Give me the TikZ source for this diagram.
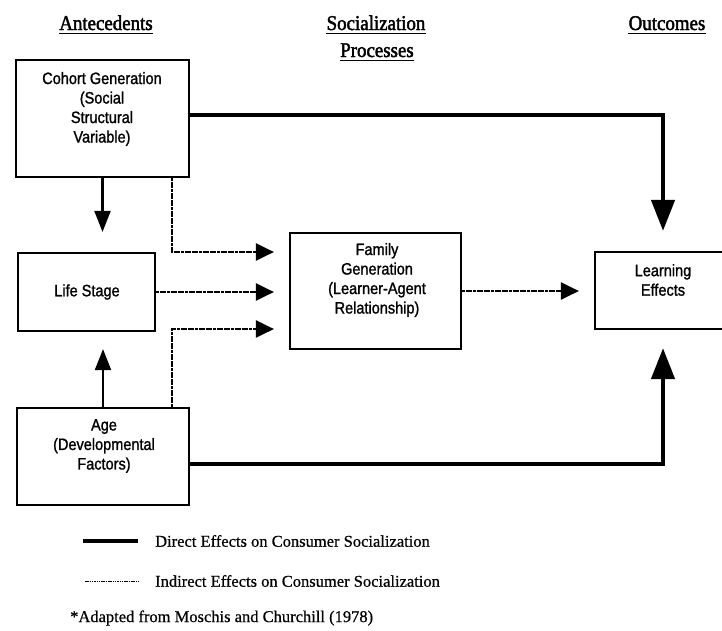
\documentclass[tikz,border=0pt]{standalone}
\usepackage{fontspec}
\setmainfont{Liberation Serif}
\newfontfamily\boxfont[FakeStretch=0.88,FakeBold=1.2]{Liberation Sans}
\newfontfamily\hdrfont[FakeStretch=0.9,FakeBold=2]{Liberation Serif}
\newfontfamily\legfont[FakeBold=0.6]{Liberation Serif}
\usetikzlibrary{arrows.meta}
\begin{document}
\begin{tikzpicture}[x=1pt,y=-1pt,
  box/.style={draw,line width=2.2pt,inner sep=0pt},
  btext/.style={font=\boxfont\fontsize{16.5}{19.5}\selectfont,align=center,inner sep=0pt},
  hdr/.style={font=\hdrfont\fontsize{21}{26}\selectfont,inner sep=0pt,anchor=base,text depth=0pt},
  legend/.style={font=\legfont\fontsize{16.5}{20}\selectfont,inner sep=0pt,anchor=west},
  uline/.style={line width=1.4pt},
  direct/.style={line width=4.5pt},
  medium/.style={line width=2.2pt},
  indirect/.style={line width=2.4pt,dash pattern=on 3pt off 0.6pt},
  bigtip/.style={-{Triangle[length=31pt,width=23pt]}},
  midtip/.style={-{Triangle[length=21pt,width=16pt]}},
  smalltip/.style={-{Triangle[length=18pt,width=17pt]}}
]
\useasboundingbox (0,0) rectangle (722,630);
\fill[white] (0,0) rectangle (722,630);

% headers
\node[hdr] (h1) at (106,30) {Antecedents};
\node[hdr] (h2) at (376,30) {Socialization};
\node[hdr] (h3) at (377,57) {Processes};
\node[hdr] (h4) at (667,30) {Outcomes};
\foreach \h in {h1,h2,h3,h4}
  \draw[uline] ([yshift=-3pt]\h.south west) -- ([yshift=-3pt]\h.south east);

% boxes
\node[box,minimum width=173pt,minimum height=117pt] (cohort) at (102.5,118.5) {};
\node[box,minimum width=137pt,minimum height=78pt] (life) at (86.5,292) {};
\node[box,minimum width=172pt,minimum height=97pt] (age) at (103,456.5) {};
\node[box,minimum width=171pt,minimum height=116pt] (family) at (375.5,291) {};
\node[box,minimum width=136pt,minimum height=77pt] (learn) at (663,290.5) {};

% box texts
\node[btext] (cohortT) at (102,109) {Cohort Generation\\(Social\\Structural\\Variable)};
\node[btext] (lifeT) at (87,292) {Life Stage};
\node[btext] (ageT) at (104,446) {Age\\(Developmental\\Factors)};
\node[btext] (familyT) at (377,280) {Family\\Generation\\(Learner-Agent\\Relationship)};
\node[btext] (learnT) at (663,280) {Learning\\Effects};

% helper coordinates
\coordinate (lsTopTip) at ([yshift=20pt]life.north);
\coordinate (lsBotTip) at ([yshift=-17pt]life.south);
\coordinate (famTip) at ([xshift=-15pt]family.west);
\coordinate (famTipA) at ([xshift=-15pt,yshift=39pt]family.west);
\coordinate (famTipC) at ([xshift=-15pt,yshift=-38pt]family.west);
\coordinate (learnTip) at ([xshift=-15pt]learn.west);

% direct effects
\draw[direct,bigtip] ([yshift=3.5pt]cohort.east) -| ([yshift=20pt]learn.north);
\draw[direct,bigtip] ([yshift=-7.5pt]age.east) -| ([yshift=-18pt]learn.south);
\draw[medium,midtip] (cohort.south) -- (cohort.south |- lsTopTip);
\draw[medium,midtip] (age.north) -- (age.north |- lsBotTip);

% indirect effects
\draw[indirect,smalltip] ([xshift=69.5pt]cohort.south) |- (famTipA);
\draw[indirect,smalltip] (life.east) -- (life.east -| famTip);
\draw[indirect,smalltip] ([xshift=69pt]age.north) |- (famTipC);
\draw[indirect,smalltip] (family.east) -- (family.east -| learnTip);

% legend
\node[legend] (lg1) at (155,541) {Direct Effects on Consumer Socialization};
\node[legend] (lg2) at (155,581) {Indirect Effects on Consumer Socialization};
\node[legend] (note) at (70,618) {*Adapted from Moschis and Churchill (1978)};
\draw[line width=4.5pt] ([xshift=-72pt]lg1.west) -- ([xshift=-17pt]lg1.west);
\draw[line width=1pt,dash pattern=on 1.5pt off 0.8pt] ([xshift=-70pt]lg2.west) -- ([xshift=-17pt]lg2.west);
\end{tikzpicture}
\end{document}
